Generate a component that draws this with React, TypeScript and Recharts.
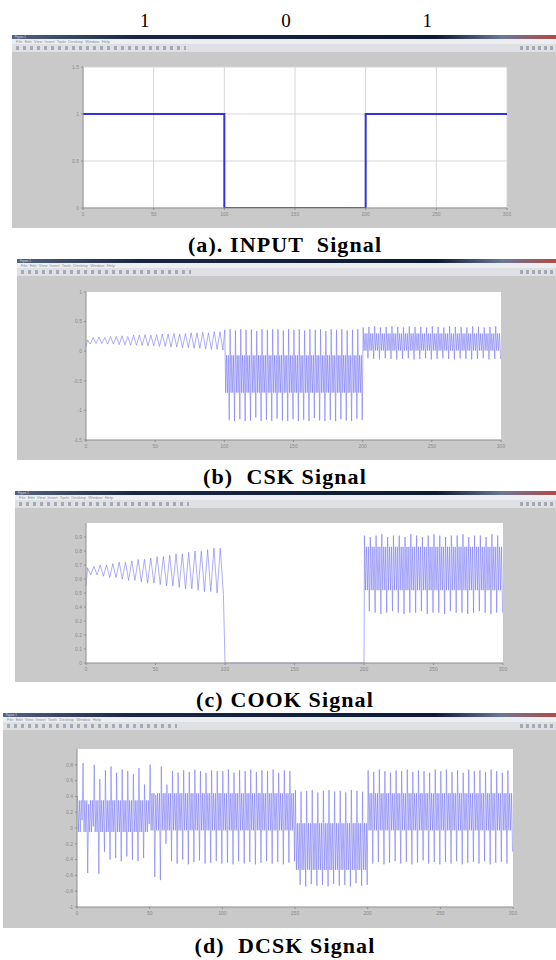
import React from "react";
import { CartesianGrid, Line, LineChart, XAxis, YAxis } from "recharts";

// bit pattern shown above the first window
const bitLabels = ["1", "0", "1"];
const timeTicks = [0, 50, 100, 150, 200, 250, 300];

// (a) input signal
const inputTimes = [0, 100, 200, 300];
const inputLevels = [1, 0, 1, 1];
const inputTicks = [0, 0.5, 1, 1.5];

// (b) CSK: per-cycle peaks / troughs, and the dense band of each bit
const cskTicks = [-1.5, -1, -0.5, 0, 0.5, 1];
const cskStart = 0.08;
const cskHi0 = [0.19, 0.23, 0.24, 0.23, 0.25, 0.25, 0.26, 0.25, 0.27, 0.27, 0.28, 0.27, 0.28, 0.29, 0.29, 0.3, 0.29, 0.3, 0.31, 0.31, 0.32, 0.31, 0.33, 0.33];
const cskLo0 = [0.12, 0.13, 0.13, 0.12, 0.12, 0.11, 0.11, 0.1, 0.1, 0.1, 0.09, 0.09, 0.08, 0.08, 0.07, 0.07, 0.06, 0.06, 0.05, 0.05, 0.04, 0.03, 0.03, 0.02];
const cskHi1 = [0.36, 0.37, 0.35, 0.37, 0.36, 0.37, 0.34, 0.37, 0.36, 0.37, 0.37, 0.35, 0.37, 0.36, 0.37, 0.35, 0.37, 0.36, 0.37, 0.34, 0.37, 0.36, 0.37, 0.35, 0.36, 0.37];
const cskLo1 = [-1.16, -1.18, -1.15, -1.18, -1.17, -1.12, -1.18, -1.16, -1.18, -1.14, -1.17, -1.18, -1.15, -1.18, -1.16, -1.18, -1.13, -1.17, -1.18, -1.16, -1.18, -1.15, -1.17, -1.18, -1.14, -1.16];
const cskBand1 = [-0.07, -0.7];
const cskHi2 = [0.4, 0.41, 0.42, 0.4, 0.41, 0.42, 0.41, 0.4, 0.42, 0.41, 0.41, 0.4, 0.42, 0.41, 0.4, 0.42, 0.41, 0.41, 0.4, 0.42, 0.41, 0.4, 0.41, 0.42];
const cskLo2 = [-0.12, -0.13, -0.14, -0.12, -0.13, -0.14, -0.13, -0.12, -0.14, -0.13, -0.12, -0.14, -0.13, -0.12, -0.13, -0.14, -0.12, -0.13, -0.14, -0.13, -0.12, -0.14, -0.13, -0.13];
const cskBand2 = [0.3, 0.01];

// (c) COOK
const cookTicks = [0, 0.1, 0.2, 0.3, 0.4, 0.5, 0.6, 0.7, 0.8, 0.9];
const cookStart = 0.55;
const cookHi0 = [0.68, 0.69, 0.7, 0.7, 0.71, 0.72, 0.72, 0.73, 0.74, 0.74, 0.75, 0.76, 0.76, 0.77, 0.78, 0.78, 0.79, 0.8, 0.8, 0.81, 0.82, 0.82];
const cookLo0 = [0.63, 0.63, 0.62, 0.61, 0.61, 0.6, 0.59, 0.59, 0.58, 0.57, 0.57, 0.56, 0.55, 0.55, 0.54, 0.53, 0.53, 0.52, 0.51, 0.51, 0.5, 0.49];
const cookOff = 0;
const cookHi2 = [0.91, 0.9, 0.91, 0.92, 0.9, 0.91, 0.91, 0.9, 0.92, 0.91, 0.9, 0.91, 0.92, 0.91, 0.9, 0.91, 0.91, 0.92, 0.9, 0.91, 0.91, 0.9, 0.92, 0.91];
const cookLo2 = [0.37, 0.36, 0.35, 0.36, 0.37, 0.36, 0.35, 0.36, 0.36, 0.37, 0.35, 0.36, 0.36, 0.35, 0.37, 0.36, 0.36, 0.35, 0.36, 0.37, 0.36, 0.35, 0.36, 0.36];
const cookBand2 = [0.83, 0.52];

// (d) DCSK: reference half + data half for every bit
const dcskTicks = [-1, -0.8, -0.6, -0.4, -0.2, 0, 0.2, 0.4, 0.6, 0.8];
const dcskStart = 0.4;
const dcskHi0 = [0.4, 0.82, 0.3, 0.8, 0.62, 0.73, 0.78, 0.7, 0.74, 0.72, 0.68, 0.76, 0.55];
const dcskLo0 = [0.1, -0.57, 0.02, -0.58, -0.3, -0.4, -0.38, -0.42, -0.36, -0.4, -0.42, -0.38, 0.05];
const dcskBand0 = [0.35, -0.05];
const dcskHi1 = [0.8, 0.42, 0.78, 0.55, 0.72, 0.7, 0.73, 0.71, 0.74, 0.72, 0.7, 0.73, 0.72];
const dcskLo1 = [-0.62, -0.66, -0.2, -0.42, -0.45, -0.4, -0.46, -0.43, -0.41, -0.45, -0.44, -0.42, -0.45];
const dcskHi2 = [0.72, 0.74, 0.7, 0.73, 0.72, 0.74, 0.71, 0.73, 0.72, 0.74, 0.7, 0.73, 0.72];
const dcskLo2 = [-0.44, -0.46, -0.42, -0.45, -0.43, -0.46, -0.44, -0.42, -0.45, -0.43, -0.46, -0.44, -0.42];
const dcskHi3 = [0.48, 0.46, 0.47, 0.48, 0.45, 0.47, 0.48, 0.46, 0.47, 0.45, 0.48, 0.47, 0.46];
const dcskLo3 = [-0.72, -0.74, -0.71, -0.73, -0.72, -0.74, -0.71, -0.73, -0.72, -0.74, -0.7, -0.73, -0.72];
const dcskHi4 = [0.73, 0.71, 0.74, 0.72, 0.7, 0.73, 0.72, 0.74, 0.71, 0.73, 0.72, 0.7, 0.74];
const dcskLo4 = [-0.45, -0.43, -0.46, -0.44, -0.42, -0.45, -0.43, -0.46, -0.44, -0.41, -0.45, -0.43, -0.46];
const dcskHi5 = [0.72, 0.74, 0.71, 0.73, 0.7, 0.74, 0.72, 0.73, 0.71, 0.74, 0.72, 0.7, 0.73];
const dcskLo5 = [-0.43, -0.45, -0.42, -0.46, -0.44, -0.43, -0.45, -0.42, -0.46, -0.44, -0.43, -0.45, -0.3];
const dcskBandHigh = [0.44, -0.03];
const dcskBandLow = [0.06, -0.53];

type Seg = { hi?: number[]; lo?: number[]; band?: number[]; hold?: number };
type Pt = { t: number; v: number };

// lay the per-cycle readings out along the time axis, segment by segment;
// inside the dense band the trace swings twice more per cycle
function buildWave(start: number, span: number, segs: Seg[]): Pt[] {
  const out: Pt[] = [{ t: 0, v: start }];
  segs.forEach((seg, s) => {
    const t0 = s * span;
    if (seg.hold !== undefined) {
      out.push({ t: t0, v: seg.hold }, { t: t0 + span, v: seg.hold });
      return;
    }
    const hi = seg.hi || [];
    const lo = seg.lo || [];
    const step = span / hi.length;
    hi.forEach((h, i) => {
      const b = seg.band;
      const vals = b ? [h, b[1], b[0], b[1], b[0], lo[i]] : [h, lo[i]];
      vals.forEach((v, j) => {
        out.push({ t: t0 + (i + (j + 0.5) / vals.length) * step, v });
      });
    });
  });
  return out;
}

const inputData = inputTimes.map((t, i) => ({ t, v: inputLevels[i] }));
const cskData = buildWave(cskStart, 100, [
  { hi: cskHi0, lo: cskLo0 },
  { hi: cskHi1, lo: cskLo1, band: cskBand1 },
  { hi: cskHi2, lo: cskLo2, band: cskBand2 },
]);
const cookData = buildWave(cookStart, 100, [
  { hi: cookHi0, lo: cookLo0 },
  { hold: cookOff },
  { hi: cookHi2, lo: cookLo2, band: cookBand2 },
]);
const dcskData = buildWave(dcskStart, 50, [
  { hi: dcskHi0, lo: dcskLo0, band: dcskBand0 },
  { hi: dcskHi1, lo: dcskLo1, band: dcskBandHigh },
  { hi: dcskHi2, lo: dcskLo2, band: dcskBandHigh },
  { hi: dcskHi3, lo: dcskLo3, band: dcskBandLow },
  { hi: dcskHi4, lo: dcskLo4, band: dcskBandHigh },
  { hi: dcskHi5, lo: dcskLo5, band: dcskBandHigh },
]);

const W = 556;
const SERIF = '"Liberation Serif", "Times New Roman", serif';
const AXIS_GREY = "#8e8e8e";
const WAVE = "#7474f2";

type Box = { left: number; right: number; top: number; bottom: number };

function FigureWindow({ left, top, bottom }: { left: number; top: number; bottom: number }) {
  return (
    <div
      style={{
        position: "absolute",
        left,
        top,
        width: W - left,
        height: bottom - top,
        background: "#c9c9c9",
        overflow: "hidden",
        fontFamily: "Arial, sans-serif",
      }}
    >
      <div
        style={{
          height: 4,
          background:
            "linear-gradient(90deg,#55637e 0%,#1a2844 22%,#0e1a33 78%,#6a7894 90%,#b14a4a 100%)",
          color: "#d8dfeb",
          fontSize: 3,
          lineHeight: "4px",
          paddingLeft: 3,
        }}
      >
        Figure 1
      </div>
      <div
        style={{
          height: 5,
          background: "#eceef2",
          color: "#8a8f99",
          fontSize: 4,
          lineHeight: "5px",
          paddingLeft: 4,
          whiteSpace: "pre",
        }}
      >
        File  Edit  View  Insert  Tools  Desktop  Window  Help
      </div>
      <div style={{ height: 8, background: "#dfe0e3", position: "relative" }}>
        <div
          style={{
            position: "absolute",
            left: 4,
            top: 2,
            width: 170,
            height: 4,
            background:
              "repeating-linear-gradient(90deg,#8d949e 0 3px,#dfe0e3 3px 7px)",
            opacity: 0.7,
          }}
        />
        <div
          style={{
            position: "absolute",
            right: 2,
            top: 2,
            width: 34,
            height: 4,
            background:
              "repeating-linear-gradient(90deg,#8d949e 0 3px,#dfe0e3 3px 6px)",
            opacity: 0.7,
          }}
        />
      </div>
    </div>
  );
}

function SignalPanel({
  frame,
  plot,
  data,
  yDomain,
  yTicks,
  grid = false,
  color,
  strokeWidth,
  opacity = 1,
  step = false,
}: {
  frame: { left: number; top: number; bottom: number };
  plot: Box;
  data: Pt[];
  yDomain: [number, number];
  yTicks: number[];
  grid?: boolean;
  color: string;
  strokeWidth: number;
  opacity?: number;
  step?: boolean;
}) {
  const yAxisW = 30;
  const xAxisH = 14;
  const mt = 4;
  const mb = 2;
  const height = plot.bottom - plot.top + mt + xAxisH + mb;
  const tickStyle = { fontSize: 5, fill: "#8a8a8a", fontFamily: "Arial, sans-serif" };
  return (
    <>
      <FigureWindow {...frame} />
      <div style={{ position: "absolute", left: 0, top: plot.top - mt }}>
        <LineChart
          width={W}
          height={height}
          data={data}
          margin={{ top: mt, bottom: mb, left: plot.left - yAxisW, right: W - plot.right }}
        >
          <CartesianGrid
            xAxisId="b"
            yAxisId="l"
            fill="#ffffff"
            horizontal={grid}
            vertical={grid}
            stroke="#d6d6d6"
          />
          <XAxis
            xAxisId="b"
            dataKey="t"
            type="number"
            domain={[0, 300]}
            ticks={timeTicks}
            interval={0}
            height={xAxisH}
            tick={tickStyle}
            tickSize={2}
            axisLine={{ stroke: AXIS_GREY }}
            tickLine={{ stroke: AXIS_GREY }}
          />
          <XAxis
            xAxisId="t"
            orientation="top"
            type="number"
            domain={[0, 300]}
            ticks={timeTicks}
            height={0}
            tick={false}
            axisLine={{ stroke: AXIS_GREY }}
          />
          <YAxis
            yAxisId="l"
            type="number"
            domain={yDomain}
            ticks={yTicks}
            interval={0}
            width={yAxisW}
            allowDataOverflow
            tick={tickStyle}
            tickSize={2}
            axisLine={{ stroke: AXIS_GREY }}
            tickLine={{ stroke: AXIS_GREY }}
          />
          <YAxis
            yAxisId="r"
            orientation="right"
            type="number"
            domain={yDomain}
            width={0}
            tick={false}
            axisLine={{ stroke: AXIS_GREY }}
          />
          <Line
            xAxisId="b"
            yAxisId="l"
            dataKey="v"
            type={step ? "stepAfter" : "linear"}
            stroke={color}
            strokeWidth={strokeWidth}
            strokeOpacity={opacity}
            dot={false}
            isAnimationActive={false}
          />
        </LineChart>
      </div>
    </>
  );
}

function Caption({ text, baseline }: { text: string; baseline: number }) {
  return (
    <div
      style={{
        position: "absolute",
        left: 0,
        width: 570,
        top: baseline - 18,
        textAlign: "center",
        fontFamily: SERIF,
        fontWeight: 700,
        fontSize: 22,
        lineHeight: "22px",
        letterSpacing: 1.1,
        whiteSpace: "pre",
        color: "#000",
      }}
    >
      {text}
    </div>
  );
}

const inputPlot: Box = { left: 83, right: 507, top: 67, bottom: 208 };

export default function App() {
  const bitWidth = (inputPlot.right - inputPlot.left) / bitLabels.length;
  return (
    <div
      style={{
        position: "absolute",
        left: 0,
        top: 0,
        width: W,
        height: 960,
        background: "#ffffff",
        overflow: "hidden",
      }}
    >
      {bitLabels.map((b, i) => (
        <div
          key={i}
          style={{
            position: "absolute",
            top: 11,
            left: inputPlot.left + (i + 0.5) * bitWidth - 9 - 20,
            width: 40,
            textAlign: "center",
            fontFamily: SERIF,
            fontSize: 19,
            lineHeight: "19px",
          }}
        >
          {b}
        </div>
      ))}

      <SignalPanel
        frame={{ left: 12, top: 35, bottom: 228 }}
        plot={inputPlot}
        data={inputData}
        yDomain={[0, 1.5]}
        yTicks={inputTicks}
        grid
        step
        color="#3434d6"
        strokeWidth={2}
      />
      <Caption text="(a). INPUT  Signal" baseline={252} />

      <SignalPanel
        frame={{ left: 17, top: 259, bottom: 460 }}
        plot={{ left: 86, right: 501, top: 292, bottom: 440 }}
        data={cskData}
        yDomain={[-1.5, 1]}
        yTicks={cskTicks}
        color={WAVE}
        strokeWidth={0.9}
        opacity={0.65}
      />
      <Caption text="(b)  CSK Signal" baseline={484} />

      <SignalPanel
        frame={{ left: 15, top: 491, bottom: 682 }}
        plot={{ left: 86, right: 503, top: 523, bottom: 663 }}
        data={cookData}
        yDomain={[0, 1]}
        yTicks={cookTicks}
        color={WAVE}
        strokeWidth={0.9}
        opacity={0.65}
      />
      <Caption text="(c) COOK Signal" baseline={707} />

      <SignalPanel
        frame={{ left: 3, top: 713, bottom: 928 }}
        plot={{ left: 77, right: 513, top: 749, bottom: 907 }}
        data={dcskData}
        yDomain={[-1, 1]}
        yTicks={dcskTicks}
        color={WAVE}
        strokeWidth={0.9}
        opacity={0.65}
      />
      <Caption text="(d)  DCSK Signal" baseline={953} />
    </div>
  );
}
